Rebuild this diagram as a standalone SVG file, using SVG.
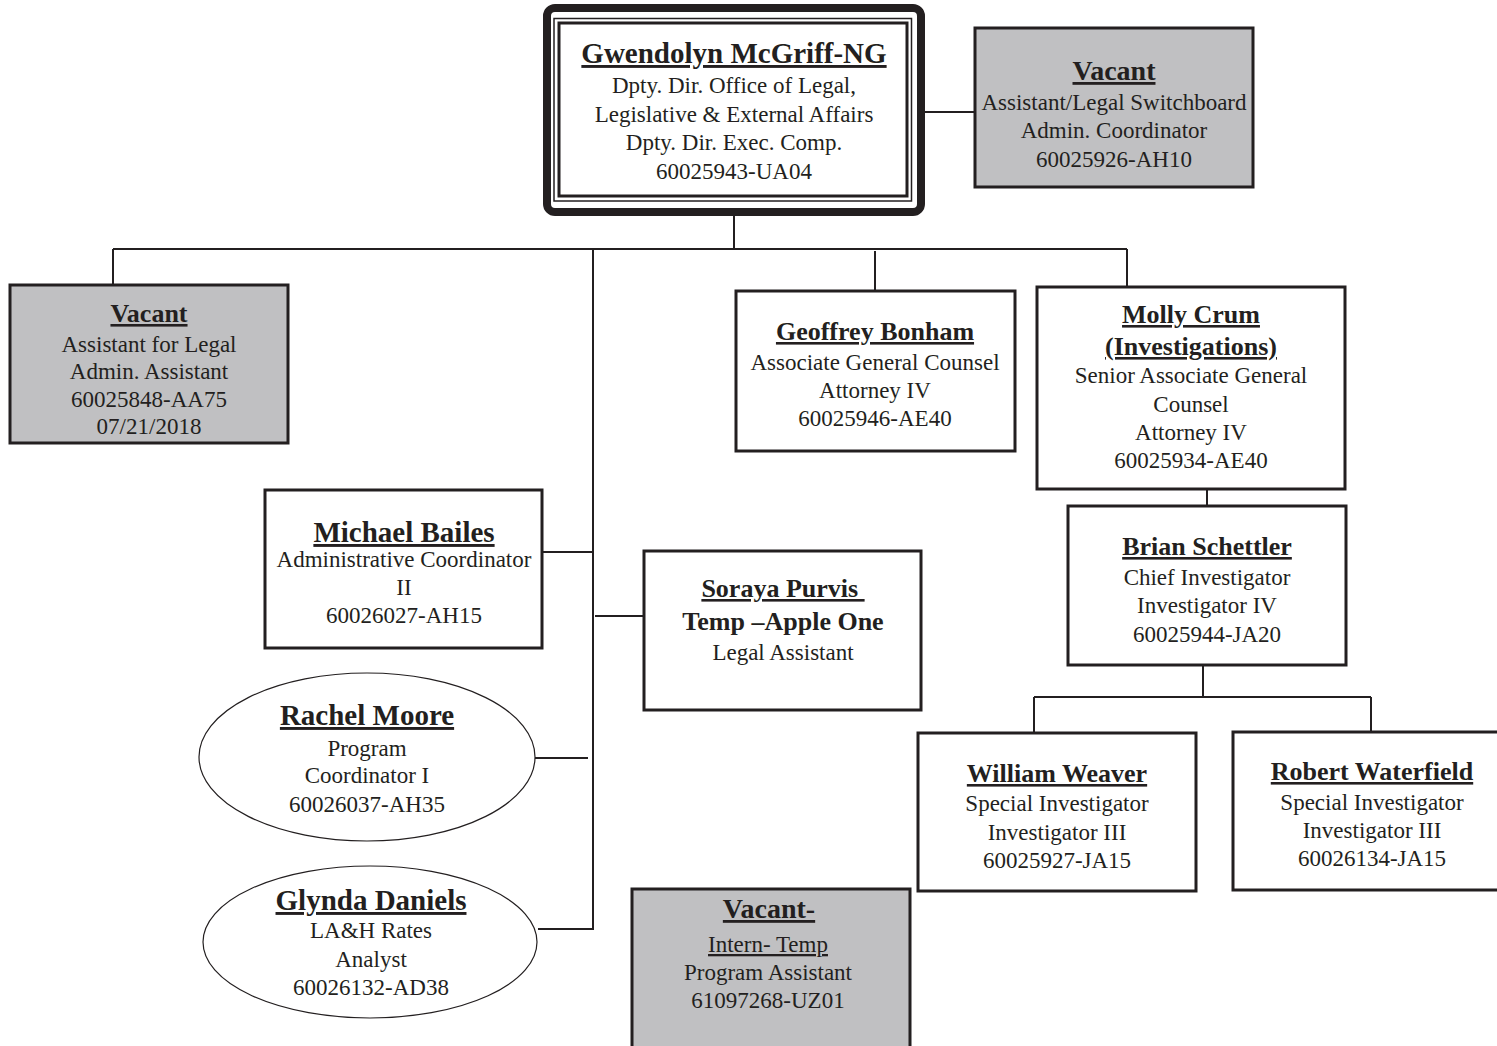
<svg xmlns="http://www.w3.org/2000/svg" width="1497" height="1046" viewBox="0 0 1497 1046">
<style>
.bg{fill:#ffffff}
.box{fill:#ffffff;stroke:#231f20;stroke-width:3}
.vac{fill:#c0c0c2;stroke:#231f20;stroke-width:3}
.ell{fill:#ffffff;stroke:#231f20;stroke-width:1.2}
.ln{fill:none;stroke:#231f20;stroke-width:2}
text{font-family:"Liberation Serif","Times New Roman",serif;fill:#231f20;text-anchor:middle;font-size:23px}
.n{font-weight:bold;font-size:26px;text-decoration:underline}
.nb{font-size:29px}
.nm{font-size:28px}
.b{font-weight:bold;font-size:26px}
.u{text-decoration:underline}
</style>
<rect class="bg" x="0" y="0" width="1497" height="1046"/>
<g id="connectors">
<path class="ln" d="M923 112 H975"/>
<path class="ln" d="M734 214 V249"/>
<path class="ln" d="M113 249 H1127"/>
<path class="ln" d="M113 249 V285"/>
<path class="ln" d="M593 249 V930"/>
<path class="ln" d="M875 251 V291"/>
<path class="ln" d="M1127 249 V287"/>
<path class="ln" d="M542 552 H593"/>
<path class="ln" d="M595 616 H644"/>
<path class="ln" d="M535 758 H588"/>
<path class="ln" d="M538 929 H594"/>
<path class="ln" d="M1207 489 V506"/>
<path class="ln" d="M1203 665 V697"/>
<path class="ln" d="M1034 697 H1371"/>
<path class="ln" d="M1034 697 V733"/>
<path class="ln" d="M1371 697 V732"/>
</g>
<g id="gwendolyn">
<rect x="547" y="8" width="374" height="204" rx="8" fill="#ffffff" stroke="#231f20" stroke-width="8"/>
<rect x="554" y="18.5" width="357.5" height="182.5" fill="none" stroke="#231f20" stroke-width="1.5"/>
<rect x="559" y="23" width="348" height="173" fill="none" stroke="#231f20" stroke-width="3"/>
<text class="n nb" x="734" y="63">Gwendolyn McGriff-NG</text>
<text x="734" y="93">Dpty. Dir. Office of Legal,</text>
<text x="734" y="122">Legislative &amp; External Affairs</text>
<text x="734" y="150">Dpty. Dir. Exec. Comp.</text>
<text x="734" y="179">60025943-UA04</text>
</g>
<g id="vacant-switchboard">
<rect class="vac" x="975" y="28" width="278" height="159"/>
<text class="n nm" x="1114" y="80">Vacant</text>
<text x="1114" y="110">Assistant/Legal Switchboard</text>
<text x="1114" y="138">Admin. Coordinator</text>
<text x="1114" y="167">60025926-AH10</text>
</g>
<g id="vacant-legal-assistant">
<rect class="vac" x="10" y="285" width="278" height="158"/>
<text class="n" x="149" y="322">Vacant</text>
<text x="149" y="352">Assistant for Legal</text>
<text x="149" y="379">Admin. Assistant</text>
<text x="149" y="407">60025848-AA75</text>
<text x="149" y="434">07/21/2018</text>
</g>
<g id="geoffrey">
<rect class="box" x="736" y="291" width="279" height="160"/>
<text class="n" x="875" y="340">Geoffrey Bonham</text>
<text x="875" y="370">Associate General Counsel</text>
<text x="875" y="398">Attorney IV</text>
<text x="875" y="426">60025946-AE40</text>
</g>
<g id="molly">
<rect class="box" x="1037" y="287" width="308" height="202"/>
<text class="n" x="1191" y="323">Molly Crum</text>
<text class="n" x="1191" y="355">(Investigations)</text>
<text x="1191" y="383">Senior Associate General</text>
<text x="1191" y="412">Counsel</text>
<text x="1191" y="440">Attorney IV</text>
<text x="1191" y="468">60025934-AE40</text>
</g>
<g id="michael">
<rect class="box" x="265" y="490" width="277" height="158"/>
<text class="n nb" x="404" y="542">Michael Bailes</text>
<text x="404" y="567">Administrative Coordinator</text>
<text x="404" y="595">II</text>
<text x="404" y="623">60026027-AH15</text>
</g>
<g id="soraya">
<rect class="box" x="644" y="551" width="277" height="159"/>
<text class="n" x="783" y="597">Soraya Purvis&#160;</text>
<text class="b" x="783" y="630">Temp –Apple One</text>
<text x="783" y="660">Legal Assistant</text>
</g>
<g id="rachel">
<ellipse class="ell" cx="367" cy="757" rx="168" ry="84"/>
<text class="n nb" x="367" y="725">Rachel Moore</text>
<text x="367" y="756">Program</text>
<text x="367" y="783">Coordinator I</text>
<text x="367" y="812">60026037-AH35</text>
</g>
<g id="glynda">
<ellipse class="ell" cx="370" cy="942" rx="167" ry="76"/>
<text class="n nb" x="371" y="910">Glynda Daniels</text>
<text x="371" y="938">LA&amp;H Rates</text>
<text x="371" y="967">Analyst</text>
<text x="371" y="995">60026132-AD38</text>
</g>
<g id="vacant-intern">
<rect class="vac" x="632" y="889" width="278" height="170"/>
<text class="n nm" x="769" y="918">Vacant-</text>
<text class="u" x="768" y="952">Intern- Temp</text>
<text x="768" y="980">Program Assistant</text>
<text x="768" y="1008">61097268-UZ01</text>
</g>
<g id="brian">
<rect class="box" x="1068" y="506" width="278" height="159"/>
<text class="n" x="1207" y="555">Brian Schettler</text>
<text x="1207" y="585">Chief Investigator</text>
<text x="1207" y="613">Investigator IV</text>
<text x="1207" y="642">60025944-JA20</text>
</g>
<g id="william">
<rect class="box" x="918" y="733" width="278" height="158"/>
<text class="n" x="1057" y="782">William Weaver</text>
<text x="1057" y="811">Special Investigator</text>
<text x="1057" y="840">Investigator III</text>
<text x="1057" y="868">60025927-JA15</text>
</g>
<g id="robert">
<rect class="box" x="1233" y="732" width="278" height="158"/>
<text class="n" x="1372" y="780">Robert Waterfield</text>
<text x="1372" y="810">Special Investigator</text>
<text x="1372" y="838">Investigator III</text>
<text x="1372" y="866">60026134-JA15</text>
</g>
</svg>
